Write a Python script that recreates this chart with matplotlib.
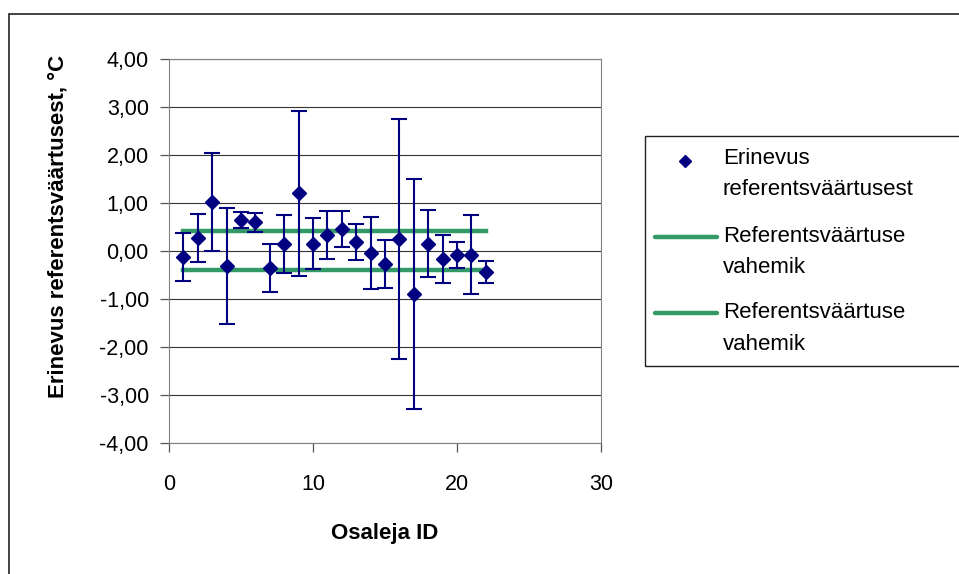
import numpy as np
import matplotlib
matplotlib.use("Agg")
import matplotlib.pyplot as plt
from matplotlib.patches import Rectangle
from matplotlib.lines import Line2D
from matplotlib.ticker import FuncFormatter

plt.rcParams["font.family"] = ["Liberation Sans", "DejaVu Sans"]

# data
participant_ids = list(range(1, 23))
differences = [-0.12, 0.28, 1.02, -0.31, 0.65, 0.60, -0.35, 0.15, 1.20, 0.15, 0.33,
               0.46, 0.19, -0.04, -0.27, 0.24, -0.90, 0.15, -0.17, -0.08, -0.08, -0.44]
uncertainties = [0.50, 0.50, 1.03, 1.21, 0.17, 0.20, 0.50, 0.60, 1.72, 0.53, 0.50,
                 0.37, 0.37, 0.75, 0.50, 2.50, 2.40, 0.70, 0.50, 0.27, 0.82, 0.23]
range_x = [1, 22]
range_upper = [0.42, 0.42]
range_lower = [-0.40, -0.40]
legend_labels = [["Erinevus", "referentsväärtusest"],
                 ["Referentsväärtuse", "vahemik"],
                 ["Referentsväärtuse", "vahemik"]]

navy = "#000080"
green = "#339966"
W, H = 959, 574


def fx(px):
    return px / W


def fy(py):
    return 1 - py / H


fig = plt.figure(figsize=(W / 100, H / 100), dpi=100)
ax = fig.add_axes([fx(169), fy(443), (601 - 169) / W, (443 - 59) / H])

ax.errorbar(participant_ids, differences, yerr=uncertainties, fmt="D", color=navy,
            ecolor=navy, elinewidth=1.5, capsize=6, capthick=1.5, markersize=7.5, zorder=3)
ax.plot(range_x, range_upper, color=green, lw=3.2, zorder=2)
ax.plot(range_x, range_lower, color=green, lw=3.2, zorder=2)

ax.set_xlim(0, 30)
ax.set_ylim(-4, 4)
ax.set_xticks([0, 10, 20, 30])
ax.set_yticks(np.arange(-4, 5, 1))
ax.yaxis.set_major_formatter(FuncFormatter(lambda v, p: f"{v:.2f}".replace(".", ",")))
ax.grid(True, axis="y", color="#333333", lw=0.8)
ax.tick_params(axis="both", labelsize=15.5, length=6.5, width=0.9, color="#555555")
ax.tick_params(axis="y", pad=8)
ax.tick_params(axis="x", pad=16)
for side in ["top", "right", "left", "bottom"]:
    ax.spines[side].set_color("#808080")

ax.set_xlabel("Osaleja ID", fontsize=16, fontweight="bold")
ax.set_ylabel("Erinevus referentsväärtusest, °C", fontsize=16, fontweight="bold")
ax.xaxis.set_label_coords(0.5, (443 - 533) / 384)
ax.xaxis.label.set_va("center")
ax.yaxis.set_label_coords((58 - 169) / 432, (443 - 226) / 384)
ax.yaxis.label.set_va("center")

# legend drawn like the spreadsheet one: handle next to the first text line
fig.add_artist(Rectangle((fx(645), fy(366)), 1.0, (366 - 136) / H, transform=fig.transFigure,
                         fill=False, edgecolor="#222222", lw=1.0))
fig.add_artist(Line2D([fx(685)], [fy(161)], marker="D", markersize=6, color=navy,
                      linestyle="none", transform=fig.transFigure))
for y_line in [237, 313]:
    fig.add_artist(Line2D([fx(655), fx(717)], [fy(y_line), fy(y_line)], color=green, lw=3.2,
                          solid_capstyle="round", transform=fig.transFigure))
for (first, second), y_first in zip(legend_labels, [158, 237, 313]):
    fig.text(fx(723), fy(y_first), first, fontsize=16, va="center", ha="left")
    fig.text(fx(723), fy(y_first + 31), second, fontsize=16, va="center", ha="left")

# outer chart frame, cut by the image edges
fig.add_artist(Rectangle((fx(9), -0.1), 1.2, 1.1 - 14 / H, transform=fig.transFigure,
                         fill=False, edgecolor="#222222", lw=1.2))

fig.savefig("out.png", dpi=100)
